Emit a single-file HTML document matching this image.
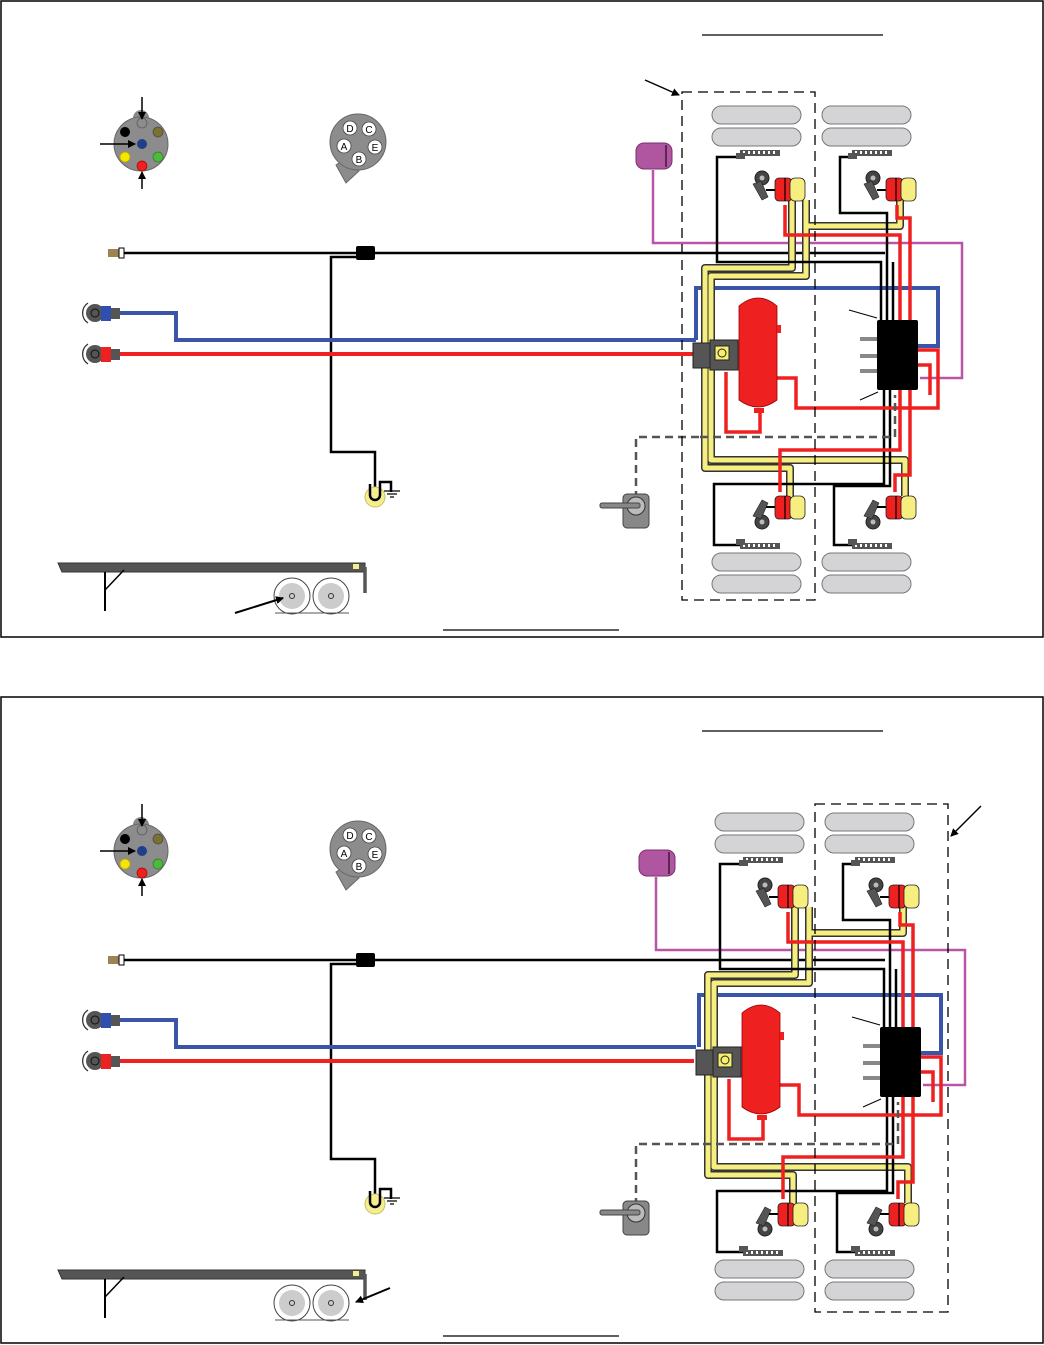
<!DOCTYPE html>
<html><head><meta charset="utf-8"><style>
html,body{margin:0;padding:0;background:#fff;width:1044px;height:1345px;overflow:hidden}
svg{display:block}
</style></head><body>
<svg width="1044" height="1345" viewBox="0 0 1044 1345" xmlns="http://www.w3.org/2000/svg">
<defs>
<marker id="ah" markerWidth="8" markerHeight="8" refX="7" refY="4" orient="auto" markerUnits="userSpaceOnUse"><path d="M0,0 L8,4 L0,8 z" fill="#000"/></marker>
<g id="rack">
  <rect x="0" y="0" width="40" height="6" fill="#555"/>
  <g fill="#fff"><rect x="3" y="1" width="2" height="3"/><rect x="8" y="1" width="2" height="3"/><rect x="13" y="1" width="2" height="3"/><rect x="18" y="1" width="2" height="3"/><rect x="23" y="1" width="2" height="3"/><rect x="28" y="1" width="2" height="3"/><rect x="33" y="1" width="2" height="3"/></g>
</g>
<g id="ch">
   <circle cx="762" cy="178" r="7" fill="#444" stroke="#222"/><circle cx="762" cy="178" r="2.5" fill="#bbb"/>
   <path d="M753,184 l8,-3 l7,16 l-6,3 z" fill="#555" stroke="#222" stroke-width="0.6"/>
   <line x1="766" y1="190" x2="776" y2="190" stroke="#000" stroke-width="2"/>
   <rect x="775" y="178" width="17" height="23" rx="4" fill="#ee2020" stroke="#222" stroke-width="0.8"/>
   <rect x="790" y="178" width="15" height="23" rx="5" fill="#f7ee80" stroke="#222" stroke-width="0.8"/>
   <line x1="785" y1="178" x2="785" y2="201" stroke="#000" stroke-width="1.2"/>
</g>
<g id="chb">
   <circle cx="762" cy="522" r="7" fill="#444" stroke="#222"/><circle cx="762" cy="522" r="2.5" fill="#bbb"/>
   <path d="M753,516 l8,3 l7,-16 l-6,-3 z" fill="#555" stroke="#222" stroke-width="0.6"/>
   <line x1="766" y1="507" x2="776" y2="507" stroke="#000" stroke-width="2"/>
   <rect x="775" y="496" width="17" height="23" rx="4" fill="#ee2020" stroke="#222" stroke-width="0.8"/>
   <rect x="790" y="496" width="15" height="23" rx="5" fill="#f7ee80" stroke="#222" stroke-width="0.8"/>
   <line x1="785" y1="496" x2="785" y2="519" stroke="#000" stroke-width="1.2"/>
</g>
<g id="left">
  <path d="M133,118 a8,8 0 0 1 16,0 z" fill="#888"/>
  <circle cx="141" cy="144" r="27" fill="#8c8c8c" stroke="#666"/>
  <circle cx="142" cy="123" r="5" fill="#8c8c8c" stroke="#555" stroke-width="0.7"/>
  <circle cx="125" cy="132" r="5" fill="#000"/>
  <circle cx="158" cy="132" r="5" fill="#7a7030" stroke="#444" stroke-width="0.7"/>
  <circle cx="142" cy="144" r="5" fill="#1f3f8a"/>
  <circle cx="125" cy="157" r="5" fill="#f5e600" stroke="#b8a000" stroke-width="0.7"/>
  <circle cx="158" cy="157" r="5" fill="#4cbb3c" stroke="#2a7a20" stroke-width="0.7"/>
  <circle cx="142" cy="166" r="5" fill="#ee2020" stroke="#a00" stroke-width="0.7"/>
  <line x1="142" y1="97" x2="142" y2="119" stroke="#000" stroke-width="1.5" marker-end="url(#ah)"/>
  <line x1="100" y1="144" x2="135" y2="144" stroke="#000" stroke-width="1.5" marker-end="url(#ah)"/>
  <line x1="142" y1="189" x2="142" y2="172" stroke="#000" stroke-width="1.5" marker-end="url(#ah)"/>
  <path d="M336,165 l12,-8 l11,14 l-13,12 z" fill="#8c8c8c" stroke="#666"/>
  <circle cx="358" cy="142" r="28" fill="#8c8c8c" stroke="#666"/>
  <g fill="#fff" stroke="#444" stroke-width="0.8">
   <circle cx="350" cy="128" r="7"/><circle cx="369" cy="129" r="7"/><circle cx="344" cy="146" r="7"/><circle cx="375" cy="147" r="7"/><circle cx="359" cy="159" r="7"/>
  </g>
  <g font-family="Liberation Sans, sans-serif" font-size="10" fill="#000" text-anchor="middle">
   <text x="350" y="132">D</text><text x="369" y="133">C</text><text x="344" y="150">A</text><text x="375" y="151">E</text><text x="359" y="163">B</text>
  </g>
  <rect x="108" y="249" width="14" height="8" fill="#9b8450"/>
  <rect x="119" y="248" width="5" height="10" fill="#fff" stroke="#000"/>
  <line x1="124" y1="253" x2="885" y2="253" stroke="#000" stroke-width="2.5"/>
  <rect x="356" y="246" width="19" height="14" rx="2" fill="#000"/>
  <path d="M356,257 H331 V452 H375 V495" fill="none" stroke="#000" stroke-width="2.5"/>
  <circle cx="375" cy="497" r="10" fill="#f5ee90" stroke="#c8c060"/>
  <path d="M370,484 V495 a5,5 0 0 0 10,0 V482 H391 V492" fill="none" stroke="#000" stroke-width="2.5"/>
  <path d="M384,491 H400 M387,494 H397 M390,497 H394" stroke="#000" stroke-width="1.2"/>
  <path d="M88,303 a12,12 0 0 0 0,20" fill="none" stroke="#333" stroke-width="1.3"/>
  <circle cx="95" cy="313" r="9" fill="#555"/><circle cx="95" cy="313" r="4" fill="none" stroke="#111"/>
  <rect x="101" y="306" width="10" height="15" fill="#3050b0"/><rect x="111" y="308" width="9" height="11" fill="#555"/>
  <path d="M88,344 a12,12 0 0 0 0,20" fill="none" stroke="#333" stroke-width="1.3"/>
  <circle cx="95" cy="354" r="9" fill="#555"/><circle cx="95" cy="354" r="4" fill="none" stroke="#111"/>
  <rect x="101" y="347" width="10" height="15" fill="#ee2020"/><rect x="111" y="349" width="9" height="11" fill="#555"/>
  <path d="M120,313 H176 V340 H696" fill="none" stroke="#3a55a8" stroke-width="4"/>
  <line x1="120" y1="354" x2="694" y2="354" stroke="#ee2020" stroke-width="4"/>
  <path d="M636,525 V437 H700" fill="none" stroke="#555" stroke-width="2.5" stroke-dasharray="8,5"/>
  <rect x="623" y="494" width="26" height="34" rx="4" fill="#888" stroke="#444"/>
  <circle cx="636" cy="506" r="9" fill="#bbb" stroke="#333"/>
  <rect x="600" y="503" width="40" height="5" rx="2" fill="#888" stroke="#444"/>
  <path d="M58,563 H365 V572 H62 z" fill="#555" stroke="#333"/>
  <rect x="353" y="564" width="6" height="5" fill="#f5ee90"/>
  <line x1="365" y1="567" x2="365" y2="593" stroke="#555" stroke-width="3.5"/>
  <line x1="105" y1="572" x2="105" y2="611" stroke="#000" stroke-width="2"/>
  <line x1="105" y1="590" x2="124" y2="570" stroke="#000" stroke-width="1.5"/>
  <circle cx="292" cy="596" r="18" fill="#fff" stroke="#444"/><circle cx="292" cy="596" r="13" fill="#ccc"/><circle cx="292" cy="596" r="2.5" fill="none" stroke="#333"/>
  <circle cx="331" cy="596" r="18" fill="#fff" stroke="#444"/><circle cx="331" cy="596" r="13" fill="#ccc"/><circle cx="331" cy="596" r="2.5" fill="none" stroke="#333"/>
  <line x1="275" y1="613" x2="349" y2="613" stroke="#555"/>
</g>
<g id="right">
  <path d="M696,340 V288 H938 V346 H918" fill="none" stroke="#3a55a8" stroke-width="4"/>
  <path d="M653,170 V243 H962 V378 H920" fill="none" stroke="#b855a8" stroke-width="2.5"/>
  <rect x="636" y="143" width="36" height="26" rx="8" fill="#b055a0" stroke="#7a3070"/>
  <line x1="666" y1="145" x2="666" y2="167" stroke="#000"/>
  <g fill="none" stroke-linejoin="round">
   <path d="M705,343 V268 H792 V200 M711,343 V276 H806 V200 M705,368 V468 H790 V496 M711,368 V460 H905 V496 M806,226 H900 V200" stroke="#333" stroke-width="8"/>
   <path d="M705,343 V268 H792 V200 M711,343 V276 H806 V200 M705,368 V468 H790 V496 M711,368 V460 H905 V496 M806,226 H900 V200" stroke="#f7ee80" stroke-width="5"/>
  </g>
  <g fill="none" stroke="#000" stroke-width="2.5">
   <path d="M740,157 H717 V262 H881 V320"/>
   <path d="M852,157 H840 V213 H887 V320"/>
   <path d="M740,545 H714 V484 H884 V390"/>
   <path d="M852,545 H834 V486 H890 V390"/>
   <line x1="893" y1="320" x2="893" y2="262"/>
  </g>
  <g fill="none" stroke="#ee2020" stroke-width="3.5">
   <path d="M785,205 V235 H900 V320"/>
   <path d="M897,205 V218 H910 V320"/>
   <path d="M918,350 H938 V408 H796 V378 H775"/>
   <path d="M918,365 H930 V395"/>
   <path d="M760,410 V432 H726 V372"/>
   <path d="M780,492 V450 H900 V390"/>
   <path d="M895,492 V475 H910 V390"/>
  </g>
  <path d="M700,437 H895 V395" fill="none" stroke="#555" stroke-width="2.5" stroke-dasharray="8,5"/>
  <path d="M739,306 q19,-16 38,0 V400 q-19,14 -38,0 z" fill="#ee2020" stroke="#900" stroke-width="0.8"/>
  <rect x="777" y="325" width="4" height="8" fill="#ee2020"/>
  <rect x="754" y="408" width="10" height="5" fill="#ee2020"/>
  <rect x="693" y="343" width="20" height="25" fill="#555" stroke="#222"/>
  <rect x="710" y="340" width="28" height="30" fill="#555" stroke="#222"/>
  <rect x="715" y="346" width="14" height="14" fill="#f5ee70" stroke="#222"/>
  <circle cx="722" cy="353" r="4" fill="none" stroke="#222"/>
  <rect x="877" y="320" width="41" height="70" rx="2" fill="#000"/>
  <g fill="#888"><rect x="860" y="337" width="17" height="4"/><rect x="860" y="354" width="17" height="4"/><rect x="860" y="369" width="17" height="4"/></g>
  <line x1="849" y1="310" x2="877" y2="318" stroke="#000"/>
  <line x1="860" y1="400" x2="878" y2="392" stroke="#000"/>
  <g fill="#d4d4d6" stroke="#777">
   <rect x="712" y="106" width="89" height="18" rx="9"/><rect x="712" y="128" width="89" height="18" rx="9"/>
   <rect x="822" y="106" width="89" height="18" rx="9"/><rect x="822" y="128" width="89" height="18" rx="9"/>
   <rect x="712" y="553" width="89" height="18" rx="9"/><rect x="712" y="575" width="89" height="18" rx="9"/>
   <rect x="822" y="553" width="89" height="18" rx="9"/><rect x="822" y="575" width="89" height="18" rx="9"/>
  </g>
  <use href="#rack" x="740" y="150"/><rect x="736" y="153" width="9" height="6" fill="#555"/>
  <use href="#rack" x="852" y="150"/><rect x="848" y="153" width="9" height="6" fill="#555"/>
  <use href="#rack" x="740" y="543"/><rect x="736" y="539" width="9" height="6" fill="#555"/>
  <use href="#rack" x="852" y="543"/><rect x="848" y="539" width="9" height="6" fill="#555"/>
  <use href="#ch"/>
  <use href="#ch" transform="translate(111,0)"/>
  <use href="#chb"/>
  <use href="#chb" transform="translate(111,0)"/>
</g>
</defs>

<rect x="1" y="1" width="1042" height="636" fill="none" stroke="#000" stroke-width="1.5"/>
<line x1="702" y1="35" x2="883" y2="35" stroke="#000" stroke-width="1.3"/>
<line x1="443" y1="630" x2="619" y2="630" stroke="#000" stroke-width="1.3"/>
<use href="#left"/>
<use href="#right"/>
<rect x="682" y="92" width="133" height="508" fill="none" stroke="#000" stroke-width="1.3" stroke-dasharray="10,6"/>
<line x1="645" y1="80" x2="679" y2="95" stroke="#000" stroke-width="1.5" marker-end="url(#ah)"/>
<line x1="235" y1="613" x2="283" y2="598" stroke="#000" stroke-width="2" marker-end="url(#ah)"/>

<rect x="1" y="697" width="1042" height="646" fill="none" stroke="#000" stroke-width="1.5"/>
<line x1="702" y1="731" x2="883" y2="731" stroke="#000" stroke-width="1.3"/>
<line x1="443" y1="1336" x2="619" y2="1336" stroke="#000" stroke-width="1.3"/>
<use href="#left" transform="translate(0,707)"/>
<use href="#right" transform="translate(3,707)"/>
<rect x="815" y="804" width="133" height="508" fill="none" stroke="#000" stroke-width="1.3" stroke-dasharray="10,6"/>
<line x1="981" y1="806" x2="951" y2="836" stroke="#000" stroke-width="1.5" marker-end="url(#ah)"/>
<line x1="390" y1="1288" x2="356" y2="1302" stroke="#000" stroke-width="2" marker-end="url(#ah)"/>
</svg>
</body></html>
